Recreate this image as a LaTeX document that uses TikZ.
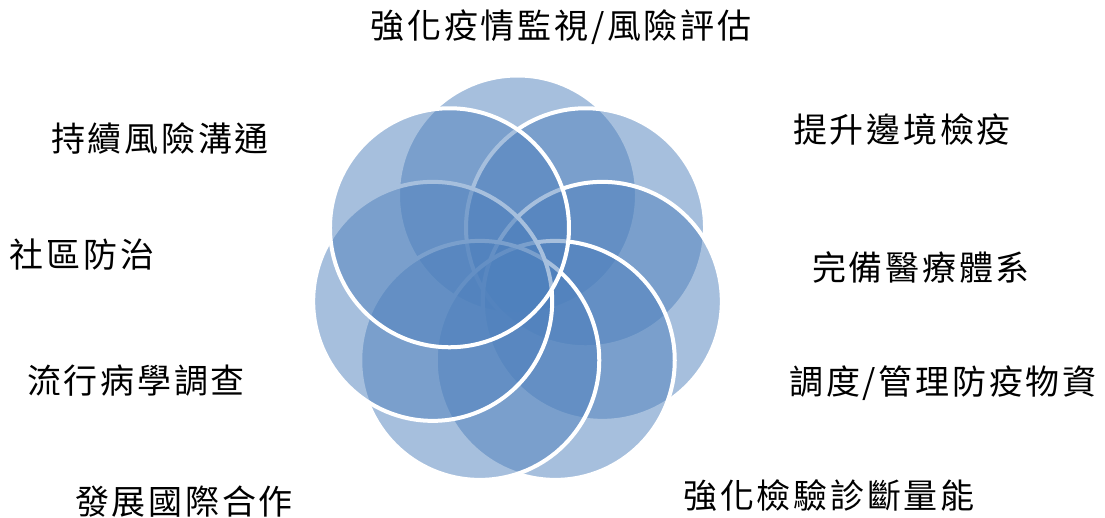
\documentclass[tikz,border=0pt]{standalone}
\usepackage{fontspec}
\newfontfamily\cjk[LetterSpace=8]{Noto Sans CJK TC}
\definecolor{accent}{RGB}{79,129,189}
\tikzset{
  petal/.style={circle, inner sep=0pt, minimum size=239pt, fill=accent, fill opacity=0.5, draw=white, draw opacity=1, line width=4pt},
  lbl/.style={inner sep=0pt, font=\cjk\fontsize{34}{40}\selectfont, text=black}
}
\begin{document}
\begin{tikzpicture}[x=1pt,y=-1pt]
\fill[white] (0,0) rectangle (1105,517);
\useasboundingbox (0,0) rectangle (1105,517);
% petals, drawn clockwise from the top
\foreach \k/\nm in {0/pT,1/pUR,2/pR,3/pLR,4/pLL,5/pL,6/pUL}{
  \pgfmathsetmacro{\ang}{90-\k*360/7}
  \pgfmathsetmacro{\px}{517.5+87*cos(\ang)}
  \pgfmathsetmacro{\py}{282-87*sin(\ang)}
  \node[petal] (\nm) at (\px,\py) {};
}
% labels
\node[lbl] (t1) at (561,27) {強化疫情監視/風險評估};
\node[lbl] (t2) at (902,129) {提升邊境檢疫};
\node[lbl] (t3) at (921,267) {完備醫療體系};
\node[lbl] (t4) at (943,383) {調度/管理防疫物資};
\node[lbl] (t5) at (829,496) {強化檢驗診斷量能};
\node[lbl] (t6) at (184,502) {發展國際合作};
\node[lbl] (t7) at (136,381) {流行病學調查};
\node[lbl] (t8) at (82,255) {社區防治};
\node[lbl] (t9) at (160,138) {持續風險溝通};
\end{tikzpicture}
\end{document}
